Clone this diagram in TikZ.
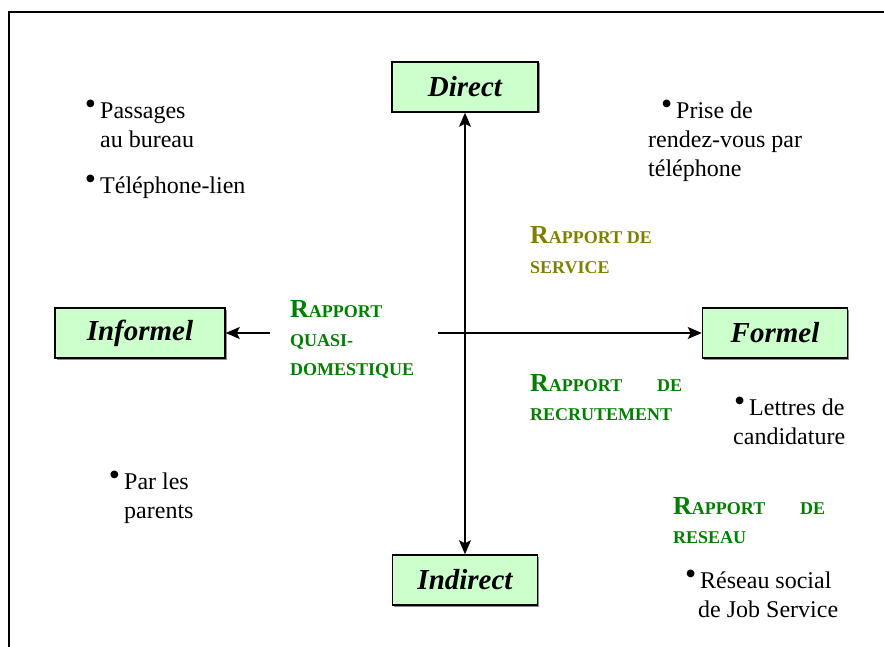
\documentclass[tikz,border=0pt]{standalone}
\usepackage{fontspec}
\setmainfont{Liberation Serif}
\usetikzlibrary{arrows.meta,shadows}

\definecolor{boxgreen}{HTML}{CCFFCC}
\definecolor{relgreen}{HTML}{008000}
\definecolor{relolive}{HTML}{808000}

% small caps with a large initial
\newcommand{\rapp}{{\fontsize{26}{29}\selectfont R}APPORT}
\newcommand{\pt}{\llap{\raisebox{4pt}{\fontsize{32}{32}\selectfont\textbullet}\hspace{4pt}}}

\tikzset{
  axis box/.style={draw, line width=1.5pt, fill=boxgreen, inner sep=0pt,
    minimum height=50pt, font=\fontsize{29}{32}\selectfont\bfseries\itshape,
    drop shadow={shadow xshift=1.5pt, shadow yshift=-1.5pt, fill=black!45, opacity=1}},
  item/.style={anchor=base west, align=left, inner sep=0pt, font=\fontsize{24}{29}\selectfont},
  relation/.style={anchor=base west, align=left, inner sep=0pt, font=\fontsize{18}{29}\selectfont\bfseries},
  axis arrow/.style={line width=1.5pt, arrows={-Stealth[length=14pt,width=12pt,inset=3pt]}}
}

\begin{document}
\begin{tikzpicture}[x=1pt,y=-1pt]
  \useasboundingbox (0,0) rectangle (884,647);
  \draw[line width=1.5pt] (9,647) -- (9,12) -- (884,12);

  % axes
  \node[axis box, minimum width=146pt] (direct) at (465,87) {Direct};
  \node[axis box, minimum width=145pt] (indirect) at (465,580) {Indirect};
  \node[axis box, minimum width=170pt] (informel) at (140,333) {Informel};
  \node[axis box, minimum width=145pt] (formel) at (775,333) {Formel};

  \coordinate (hstart) at (438,333);
  \coordinate (lstart) at (270,333);

  \draw[axis arrow, arrows={Stealth[length=14pt,width=12pt,inset=3pt]-Stealth[length=14pt,width=12pt,inset=3pt]}] (direct) -- (indirect);
  \draw[axis arrow] (hstart) -- (formel);
  \draw[axis arrow] (lstart) -- (informel);

  % relations (anchored at the last line)
  \node[relation, text=relgreen] (quasi) at (290,375) {\rapp\\QUASI-\\DOMESTIQUE};
  \node[relation, text=relolive] (service) at (530,273) {\rapp{} DE\\SERVICE};
  \node[relation, text=relgreen] (recrut) at (530,420) {\makebox[152pt][s]{\rapp{} \hfill DE}\\RECRUTEMENT};
  \node[relation, text=relgreen] (reseau) at (673,543) {\makebox[152pt][s]{\rapp{} \hfill DE}\\RESEAU};

  % examples
  \node[item] (passages) at (100,148) {\pt Passages\\au bureau};
  \node[item] (tellien) at (100,194) {\pt Téléphone-lien};
  \node[item] (prise) at (648,177) {\hspace*{28pt}\pt Prise de\\rendez-vous par\\téléphone};
  \node[item] (lettres) at (733,444) {\hspace*{16pt}\pt Lettres de\\candidature};
  \node[item] (parents) at (124,518) {\pt Par les\\parents};
  \node[item] (jobserv) at (698,617) {\hspace*{2pt}\pt Réseau social\\de Job Service};
\end{tikzpicture}
\end{document}
